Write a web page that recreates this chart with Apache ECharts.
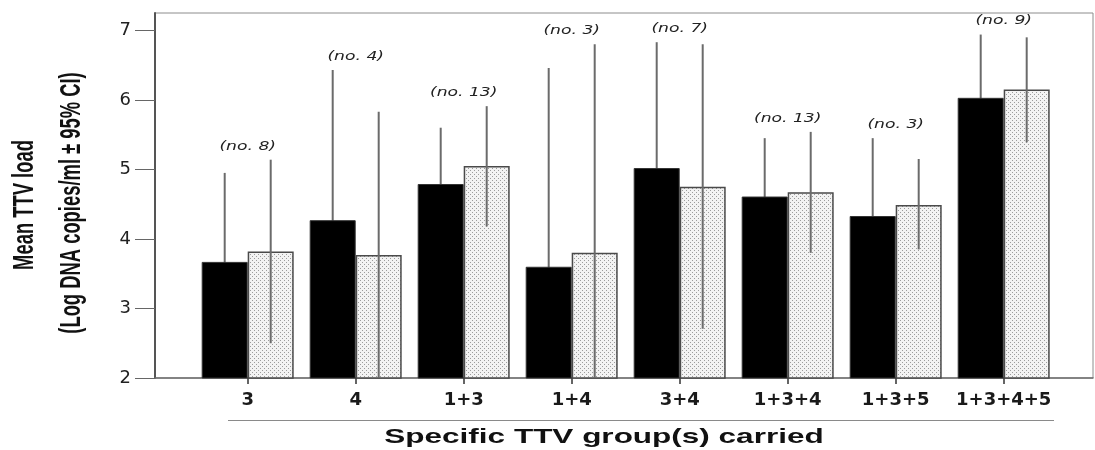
<!DOCTYPE html>
<html><head><meta charset="utf-8">
<script src="https://cdn.jsdelivr.net/npm/echarts@6/dist/echarts.min.js"></script>
<style>html,body{margin:0;padding:0;background:#fff}#c{width:1095px;height:450px}</style>
</head><body><div id="c"></div>
<script>
// ---- data ----
const categories = ['3', '4', '1+3', '1+4', '3+4', '1+3+4', '1+3+5', '1+3+4+5'];
const sampleSizes = [8, 4, 13, 3, 7, 13, 3, 9];
const blackMean  = [3.67, 4.27, 4.79, 3.60, 5.02, 4.61, 4.33, 6.03];
const blackUpper = [4.95, 6.43, 5.60, 6.46, 6.83, 5.45, 5.45, 6.94];
const blackLower = [2.39, 2.11, 3.98, 0.74, 3.21, 3.77, 3.21, 5.12];
const dotMean  = [3.82, 3.77, 5.05, 3.80, 4.75, 4.67, 4.49, 6.15];
const dotUpper = [5.14, 5.83, 5.91, 6.80, 6.80, 5.54, 5.15, 6.90];
const dotLower = [2.50, 1.71, 4.18, 0.80, 2.71, 3.80, 3.85, 5.39];
const yTicks = [2, 3, 4, 5, 6, 7];

const BAR_W = 46;

function dotPattern() {
  const c = document.createElement('canvas');
  c.width = 4; c.height = 4;
  const g = c.getContext('2d');
  g.fillStyle = '#f3f3f3'; g.fillRect(0, 0, 4, 4);
  g.fillStyle = '#9c9c9c';
  g.fillRect(0, 0, 1, 1); g.fillRect(2, 2, 1, 1);
  return c;
}

function errSeries(lower, upper, side, z) {
  return {
    type: 'custom', xAxisIndex: 1, yAxisIndex: 1, z: z, clip: true, silent: true,
    data: categories.map((c, i) => [i, lower[i], upper[i]]),
    encode: { x: 0, y: [1, 2] },
    renderItem: (params, api) => {
      const i = api.value(0);
      const lo = api.coord([i, api.value(1)]);
      const hi = api.coord([i, api.value(2)]);
      const x = lo[0] + side * BAR_W / 2;
      return { type: 'line', shape: { x1: x, y1: lo[1], x2: x, y2: hi[1] },
               style: { stroke: '#6b6b6b', lineWidth: 2 } };
    }
  };
}

const chart = echarts.init(document.getElementById('c'), null, { renderer: 'canvas' });
const option = {
  animation: false,
  backgroundColor: '#fff',
  grid: [
    { left: 155, right: 2, top: 13, bottom: 72, show: true, borderColor: '#8c8c8c', borderWidth: 1, backgroundColor: 'transparent' },
    { left: 193.7, width: 864, top: 13, bottom: 72 }
  ],
  xAxis: [
    { type: 'value', gridIndex: 0, min: 0, max: 1,
      axisLine: { show: true, lineStyle: { color: '#6e6e6e', width: 1.5 } },
      axisTick: { show: false }, axisLabel: { show: false }, splitLine: { show: false } },
    { type: 'category', gridIndex: 1, data: categories,
      axisLine: { show: false },
      axisTick: { show: true, alignWithLabel: true, length: 6, lineStyle: { color: '#333', width: 1.5 } },
      axisLabel: { interval: 0, margin: 13, fontFamily: 'DejaVu Sans', fontWeight: 'bold', fontSize: 18, color: '#1a1a1a' } }
  ],
  yAxis: [
    { type: 'value', gridIndex: 0, min: 2, max: 7.25, interval: 1,
      axisLine: { show: true, lineStyle: { color: '#555', width: 2 } },
      axisTick: { show: true, length: 20, customValues: yTicks, lineStyle: { color: '#666', width: 1 } },
      axisLabel: { customValues: yTicks, formatter: v => Number.isInteger(v) ? String(v) : '',
                   margin: 24, fontFamily: 'DejaVu Sans', fontSize: 18, color: '#222' },
      splitLine: { show: false } },
    { type: 'value', gridIndex: 1, min: 2, max: 7.25, show: false }
  ],
  series: [
    { type: 'bar', xAxisIndex: 1, yAxisIndex: 1, data: blackMean, barWidth: BAR_W, barGap: '0%', z: 2,
      itemStyle: { color: '#000', borderColor: '#333', borderWidth: 1 } },
    { type: 'bar', xAxisIndex: 1, yAxisIndex: 1, data: dotMean, barWidth: BAR_W, barGap: '0%', z: 2,
      itemStyle: { color: { image: dotPattern(), repeat: 'repeat' }, borderColor: '#4a4a4a', borderWidth: 1.5 } },
    errSeries(blackLower, blackUpper, -1, 1),
    errSeries(dotLower, dotUpper, 1, 3),
    { type: 'custom', xAxisIndex: 1, yAxisIndex: 1, z: 4, silent: true,
      data: categories.map((c, i) => [i, Math.max(blackUpper[i], dotUpper[i]), sampleSizes[i]]),
      encode: { x: 0, y: 1 },
      renderItem: (params, api) => {
        const pt = api.coord([api.value(0), api.value(1)]);
        return { type: 'text', x: pt[0], y: pt[1] - 7, scaleX: 1.32,
                 style: { text: '(no. ' + api.value(2) + ')', align: 'center', verticalAlign: 'bottom',
                          font: 'italic 13px "DejaVu Sans"', fill: '#222' } };
      } }
  ],
  graphic: [
    { type: 'text', x: 25, y: 205, rotation: Math.PI / 2, scaleY: 1.6,
      style: { text: 'Mean TTV load', font: 'bold 18.4px "Liberation Sans"',
               align: 'center', verticalAlign: 'middle', fill: '#111' } },
    { type: 'text', x: 72, y: 203, rotation: Math.PI / 2, scaleY: 1.6,
      style: { text: '(Log DNA copies/ml \u00b1 95% CI)', font: 'bold 18.4px "Liberation Sans"',
               align: 'center', verticalAlign: 'middle', fill: '#111' } },
    { type: 'line', shape: { x1: 228, y1: 420.5, x2: 1054, y2: 420.5 }, style: { stroke: '#8a8a8a', lineWidth: 1 } },
    { type: 'text', x: 604, y: 437, scaleX: 1.5,
      style: { text: 'Specific TTV group(s) carried', font: 'bold 21px "Liberation Sans"',
               align: 'center', verticalAlign: 'middle', fill: '#111' } }
  ]
};
chart.setOption(option);
</script>
</body></html>
